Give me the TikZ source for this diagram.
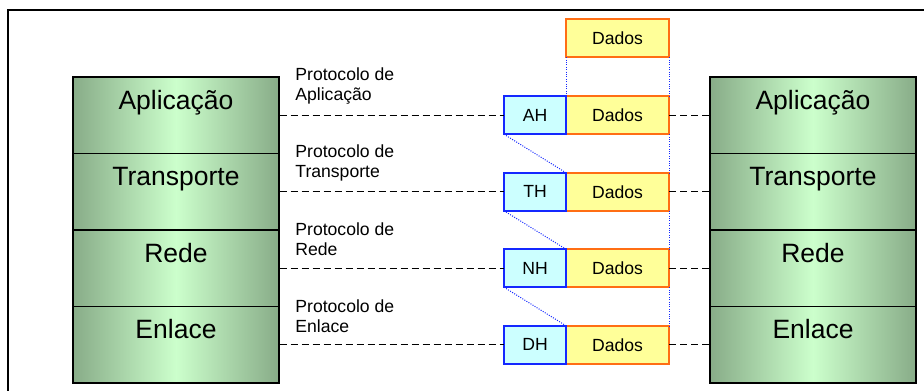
\documentclass[tikz,border=0pt]{standalone}
\usepackage{fontspec}
\setmainfont{Liberation Sans}
\usepackage{tikz}
\usetikzlibrary{positioning}
\definecolor{layerdark}{RGB}{136,172,136}
\definecolor{layerlight}{RGB}{204,255,204}
\definecolor{hdrfill}{RGB}{204,255,255}
\definecolor{hdrline}{RGB}{20,40,255}
\definecolor{datafill}{RGB}{255,255,153}
\definecolor{dataline}{RGB}{255,110,20}
\newcommand\layerfont{\fontsize{13.25}{16}\selectfont}
\newcommand\smallfont{\fontsize{8.8}{10.2}\selectfont}
\tikzstyle{layer}    = [rectangle, draw=black, line width=0.7pt, minimum width=103pt, minimum height=38.25pt, inner sep=0pt, left color=layerdark, right color=layerdark, middle color=layerlight]
\tikzstyle{layertext} = [anchor=center, yshift=-11.6pt, font=\layerfont, text height=9.5pt, text depth=0pt, inner sep=0pt]
\tikzstyle{header}   = [rectangle, draw=hdrline, fill=hdrfill, line width=0.9pt, minimum width=31pt, minimum height=19pt, inner sep=0pt, outer sep=0pt, font=\smallfont]
\tikzstyle{data}     = [rectangle, draw=dataline, fill=datafill, line width=0.9pt, minimum width=51.5pt, minimum height=19pt, inner sep=0pt, outer sep=0pt, font=\smallfont]
\tikzstyle{proto}    = [anchor=west, align=left, font=\smallfont, inner sep=0pt]
\tikzstyle{peer}     = [line width=0.65pt, dash pattern=on 3.5pt off 2pt]
\tikzstyle{wrap}     = [hdrline, line width=0.5pt, dash pattern=on 0.5pt off 0.7pt]

\begin{document}
\begin{tikzpicture}[x=0.5pt, y=-0.5pt]
    \useasboundingbox (0,0) rectangle (924,390);
    \clip (0,0) rectangle (924,390);
    \draw [line width=1pt] (8,10.5) rectangle (940,400);

    % host stacks
    \node (la) [layer, label={[layertext]north:Aplicação}]  at (176,115.25) {};
    \node (lt) [layer, label={[layertext]north:Transporte}] at (176,191.75) {};
    \node (lr) [layer, label={[layertext]north:Rede}]       at (176,268.25) {};
    \node (le) [layer, label={[layertext]north:Enlace}]     at (176,344.75) {};

    \node (ra) [layer, label={[layertext]north:Aplicação}]  at (813,115.25) {};
    \node (rt) [layer, label={[layertext]north:Transporte}] at (813,191.75) {};
    \node (rr) [layer, label={[layertext]north:Rede}]       at (813,268.25) {};
    \node (re) [layer, label={[layertext]north:Enlace}]     at (813,344.75) {};

    % encapsulation
    \node (d1) [data] at (617.5,115.25) {Dados};
    \node (d2) [data] at (617.5,191.75) {Dados};
    \node (d3) [data] at (617.5,268.25) {Dados};
    \node (d4) [data] at (617.5,344.75) {Dados};
    \node (d0) [data, above=19.5pt of d1] {Dados};

    \node (ah) [header, left=0pt of d1] {AH};
    \node (th) [header, left=0pt of d2] {TH};
    \node (nh) [header, left=0pt of d3] {NH};
    \node (dh) [header, left=0pt of d4] {DH};

    \draw [wrap] (d0.south west) -- (d1.north west);
    \draw [wrap] (d0.south east) -- (d1.north east);
    \draw [wrap] (d1.south east) -- (d2.north east);
    \draw [wrap] (d2.south east) -- (d3.north east);
    \draw [wrap] (d3.south east) -- (d4.north east);
    \draw [wrap] (ah.south west) -- (d2.north west);
    \draw [wrap] (th.south west) -- (d3.north west);
    \draw [wrap] (nh.south west) -- (d4.north west);

    % peer protocols
    \node (pa) [proto] at (295,86)  {Protocolo de\\Aplicação};
    \node (pt) [proto] at (295,163) {Protocolo de\\Transporte};
    \node (pr) [proto] at (295,239) {Protocolo de\\Rede};
    \node (pe) [proto] at (295,316) {Protocolo de\\Enlace};

    \draw [peer] (la) -- (ah);
    \draw [peer] (lt) -- (th);
    \draw [peer] (lr) -- (nh);
    \draw [peer] (le) -- (dh);
    \draw [peer] (d1) -- (ra);
    \draw [peer] (d2) -- (rt);
    \draw [peer] (d3) -- (rr);
    \draw [peer] (d4) -- (re);
\end{tikzpicture}
\end{document}
